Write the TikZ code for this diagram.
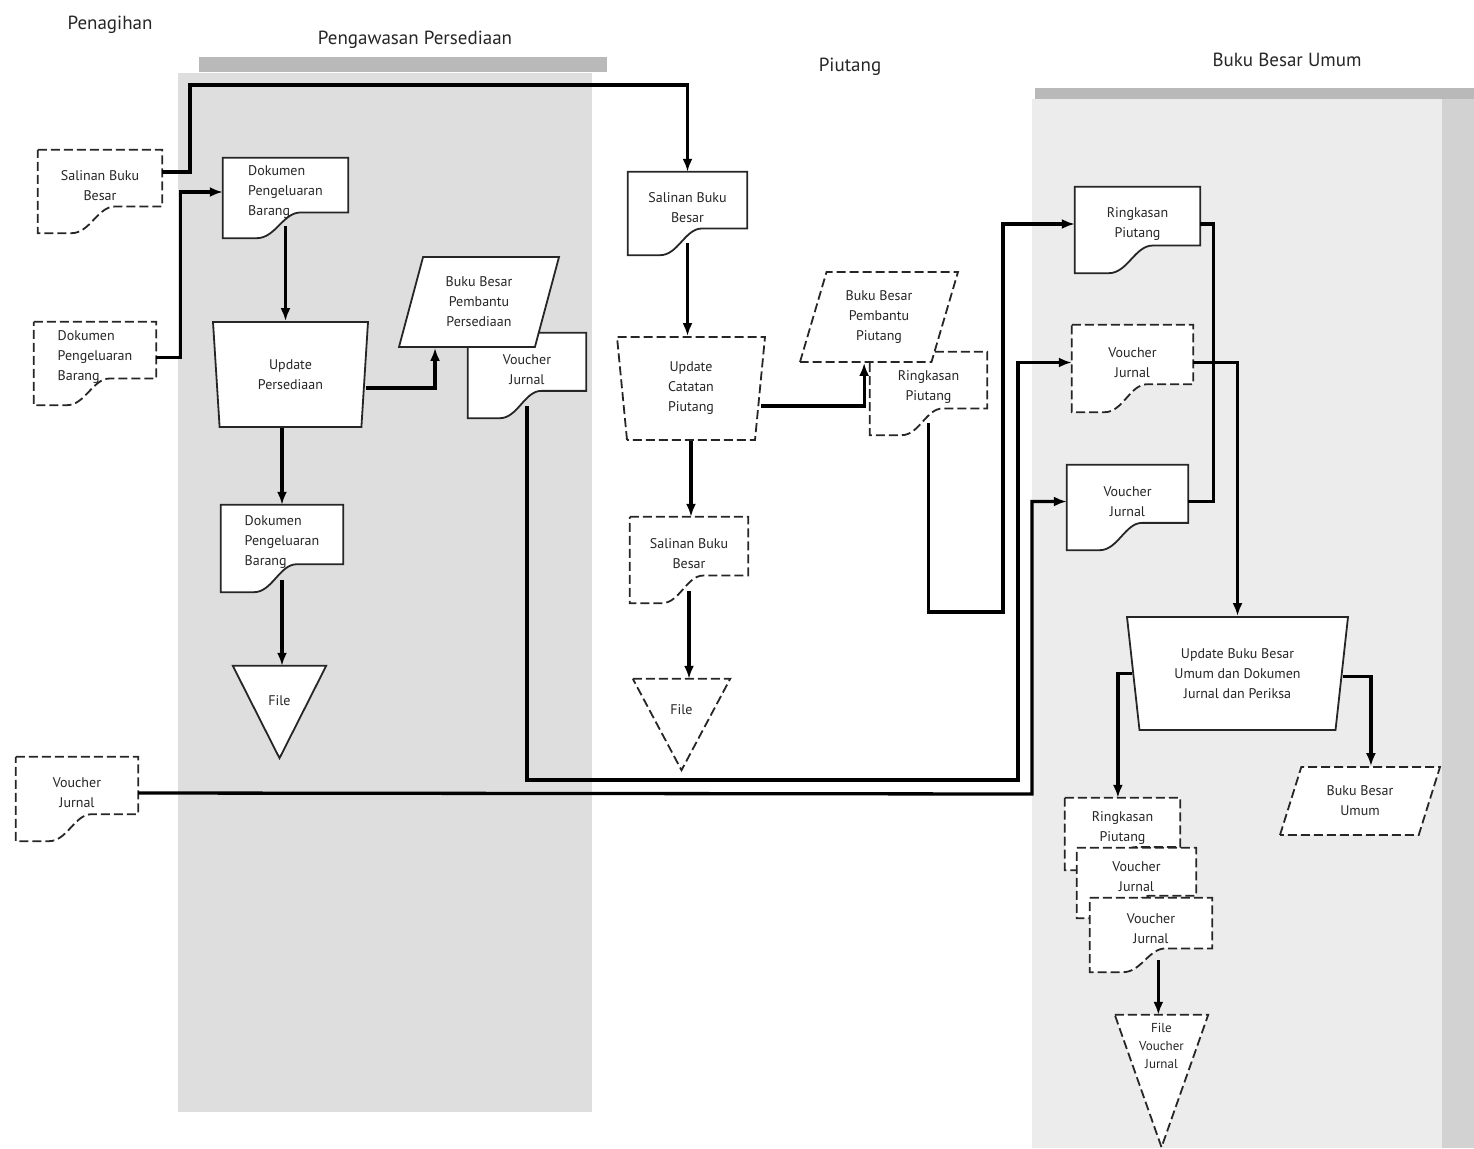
\documentclass[tikz,border=0pt]{standalone}
\usepackage{fontspec}
\setmainfont{PT Sans}
\usetikzlibrary{shapes.geometric,arrows.meta,calc}
\pgfdeclarelayer{back}
\pgfdeclarelayer{shapes}
\pgfsetlayers{back,shapes,main}
\tikzset{
  box/.style={align=center, inner sep=2pt, text=black!85, font=\fontsize{14}{20}\selectfont},
  leftbox/.style={box, align=left},
  shapeline/.style={line width=1.8pt, draw=black!85, fill=white},
  dashedge/.style={dash pattern=on 9pt off 4pt},
  manualop/.style={box, shapeline, trapezium, trapezium stretches body},
  ledgerbox/.style={box, shapeline, trapezium, trapezium stretches body},
  flow/.style={line width=3.3pt, -{Latex[length=13pt,width=10pt]}},
  link/.style={line width=3.3pt},
  headtext/.style={text=black!85, font=\fontsize{19}{23}\selectfont}
}
\newcommand{\docshape}[2][]{%
  \draw[shapeline,#1] let \p1=(#2.north west), \p2=(#2.south east),
    \p3=(\x1,{\y2-12pt}),
    \p4=({\x1+0.27*(\x2-\x1)},{\y2-12pt}),
    \p5=({\x1+0.62*(\x2-\x1)},{\y2-12pt+0.32*(\y1-\y2+12pt)}),
    \p6=(\x2,{\y2-12pt+0.32*(\y1-\y2+12pt)}) in
    (\p1) -- (\x2,\y1) -- (\p6) -- (\p5)
    .. controls ({\x5-0.14*(\x2-\x1)},\y5) and ({\x4+0.15*(\x2-\x1)},\y4) .. (\p4)
    -- (\p3) -- cycle;}
\newcommand{\fileshape}[3][]{%
  \draw[shapeline,#1] (#2.north west) -- (#2.north east) -- ([yshift=-#3]#2.south) -- cycle;}
\begin{document}
\begin{tikzpicture}[x=1pt,y=-1pt]
\useasboundingbox (0,0) rectangle (1474,1148);
\begin{pgfonlayer}{back}
\fill[gray!26] (178,73) rectangle (592,1112);
\fill[gray!55] (199,57) rectangle (607,72);
\fill[gray!15] (1032,99) rectangle (1474,1148);
\fill[gray!55] (1035,88) rectangle (1474,99);
\fill[gray!35] (1442,99) rectangle (1474,1148);
\end{pgfonlayer}

\node[headtext] (tPenagihan) at (110,25) {Penagihan};
\node[headtext] (tPersediaan) at (415,40) {Pengawasan Persediaan};
\node[headtext] (tPiutang) at (850,67) {Piutang};
\node[headtext] (tBukuBesar) at (1287,60) {Buku Besar Umum};

\node[box, minimum width=124pt, minimum height=71pt] (pgSalinan) at (100,185.5) {Salinan Buku\\Besar};
\node[leftbox, minimum width=122pt, minimum height=71pt] (pgDokumen) at (95,357.5) {Dokumen\\Pengeluaran\\Barang};
\node[box, minimum width=122pt, minimum height=72pt] (pgVoucher) at (77,793) {Voucher\\Jurnal};

\node[leftbox, minimum width=125pt, minimum height=68pt] (ppDokumen1) at (285.5,192) {Dokumen\\Pengeluaran\\Barang};
\node[manualop, trapezium left angle=101, trapezium right angle=101, minimum width=155pt, minimum height=105pt] (ppUpdate) at (290.5,374.5) {Update\\Persediaan};
\node[box, minimum width=118pt, minimum height=73pt] (ppVoucher) at (527,369.5) {Voucher\\Jurnal};
\node[ledgerbox, trapezium left angle=66, trapezium right angle=114, minimum width=160pt, minimum height=90pt] (ppBukuBesar) at (479,302) {Buku Besar\\Pembantu\\Persediaan};
\node[leftbox, minimum width=122pt, minimum height=75pt] (ppDokumen2) at (282,542.5) {Dokumen\\Pengeluaran\\Barang};
\node[box, minimum width=93pt, minimum height=70pt] (ppFile) at (279.5,701) {File};

\node[box, minimum width=119pt, minimum height=71pt] (piSalinan1) at (687.5,207.5) {Salinan Buku\\Besar};
\node[manualop, dashedge, trapezium left angle=100, trapezium right angle=100, minimum width=148pt, minimum height=103pt] (piUpdate) at (691,388.5) {Update\\Catatan\\Piutang};
\node[box, minimum width=117pt, minimum height=71pt] (piRingkasan) at (928.5,387.5) {Ringkasan\\Piutang};
\node[ledgerbox, dashedge, trapezium left angle=65, trapezium right angle=115, minimum width=158pt, minimum height=90pt] (piBukuBesar) at (879,317) {Buku Besar\\Pembantu\\Piutang};
\node[box, minimum width=118pt, minimum height=74pt] (piSalinan2) at (689,554) {Salinan Buku\\Besar};
\node[box, minimum width=97pt, minimum height=62pt] (piFile) at (681.5,710) {File};

\node[box, minimum width=125pt, minimum height=74pt] (bbRingkasan) at (1137.5,224) {Ringkasan\\Piutang};
\node[box, minimum width=121pt, minimum height=75pt] (bbVoucher1) at (1132.5,362.5) {Voucher\\Jurnal};
\node[box, minimum width=121pt, minimum height=73pt] (bbVoucher2) at (1127.5,501.5) {Voucher\\Jurnal};
\node[manualop, trapezium left angle=103, trapezium right angle=103, minimum width=221pt, minimum height=113pt] (bbUpdate) at (1237.5,673.5) {Update Buku Besar\\Umum dan Dokumen\\Jurnal dan Periksa};
\node[ledgerbox, dashedge, trapezium left angle=58, trapezium right angle=122, minimum width=160pt, minimum height=68pt] (bbBukuBesar) at (1360,801) {Buku Besar\\Umum};
\node[box, minimum width=115pt, minimum height=60pt] (bbDoc1) at (1122.5,828) {Ringkasan\\Piutang};
\node[box, minimum width=119pt, minimum height=58pt] (bbDoc2) at (1136.5,877) {Voucher\\Jurnal};
\node[box, minimum width=122pt, minimum height=62pt] (bbDoc3) at (1151,929) {Voucher\\Jurnal};
\node[box, minimum width=93pt, minimum height=62pt, font=\fontsize{13}{18}\selectfont] (bbFile) at (1161.5,1046) {File\\Voucher\\Jurnal};

\coordinate (topRun) at (190,85);
\coordinate (jrnA) at (1018,780);
\coordinate (jrnB) at (1032,794);
\coordinate (sumTurn) at (1003,612);
\coordinate (docOut) at ($(bbDoc3.south west)!0.56!(bbDoc3.south east)$);

\draw[flow] ([yshift=13.5pt]pgSalinan.east) -| (topRun) -| (piSalinan1.north);
\draw[flow] (pgDokumen.east) -- ++(24,0) |- (ppDokumen1.west);
\draw[flow] (ppDokumen1.south) -- (ppDokumen1.south |- ppUpdate.north);
\draw[flow] ([yshift=-13.5pt]ppUpdate.east) -| ($(ppBukuBesar.bottom left corner)!0.27!(ppBukuBesar.bottom right corner)$);
\draw[flow] (ppDokumen2.north |- ppUpdate.south) -- (ppDokumen2.north);
\draw[flow] (ppDokumen2.south) -- (ppDokumen2.south |- ppFile.north);
\draw[flow] (ppVoucher.south) |- (jrnA) |- (bbVoucher1.west);
\draw[flow] (pgVoucher.east) -- (jrnB) |- (bbVoucher2.west);

\draw[flow] (piSalinan1.south) -- (piSalinan1.south |- piUpdate.north);
\draw[flow] ([yshift=-17.5pt]piUpdate.east) -| ($(piBukuBesar.bottom left corner)!0.49!(piBukuBesar.bottom right corner)$);
\draw[flow] (piUpdate.south) -- (piUpdate.south |- piSalinan2.north);
\draw[flow] (piSalinan2.south) -- (piSalinan2.south |- piFile.north);
\draw[flow] (piRingkasan.south) |- (sumTurn) |- (bbRingkasan.west);

\draw[link] (bbRingkasan.east) -- ++(13,0) |- (bbVoucher1.east -| bbUpdate.north);
\draw[link] (bbVoucher2.east) -- ++(25,0) |- (bbVoucher1.east -| bbUpdate.north);
\draw[flow] (bbVoucher1.east) -| (bbUpdate.north);
\draw[flow] (bbUpdate.west) -| ($(bbDoc1.north west)!0.46!(bbDoc1.north east)$);
\draw[flow] ([yshift=-3pt]bbUpdate.east) -| ($(bbBukuBesar.top left corner)!0.5!(bbBukuBesar.top right corner)$);
\draw[flow] (docOut) -- (docOut |- bbFile.north);

\begin{pgfonlayer}{shapes}
\docshape[dashedge]{pgSalinan}
\docshape[dashedge]{pgDokumen}
\docshape[dashedge]{pgVoucher}
\docshape{ppDokumen1}
\docshape{ppVoucher}
\docshape{ppDokumen2}
\fileshape{ppFile}{22pt}
\docshape{piSalinan1}
\docshape[dashedge]{piRingkasan}
\docshape[dashedge]{piSalinan2}
\fileshape[dashedge]{piFile}{29pt}
\docshape{bbRingkasan}
\docshape[dashedge]{bbVoucher1}
\docshape{bbVoucher2}
\docshape[dashedge]{bbDoc1}
\docshape[dashedge]{bbDoc2}
\docshape[dashedge]{bbDoc3}
\fileshape[dashedge]{bbFile}{70pt}
\end{pgfonlayer}
\end{tikzpicture}
\end{document}
